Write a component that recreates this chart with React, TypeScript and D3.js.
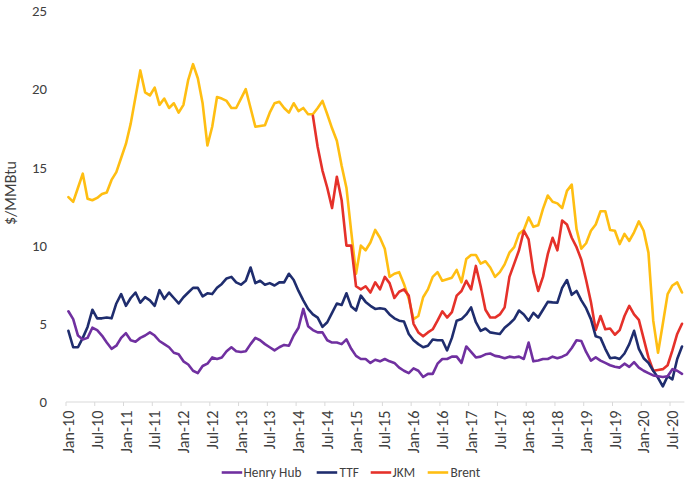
import React from "react";
import * as d3 from "d3";

// ---- Data (monthly, Jan-10 .. Sep-20), $/MMBtu ----
const startYear = 2010;
const monthNames = ["Jan","Feb","Mar","Apr","May","Jun","Jul","Aug","Sep","Oct","Nov","Dec"];
const months: string[] = [];
for (let i = 0; i < 129; i++) {
  const y = startYear + Math.floor(i / 12);
  months.push(`${monthNames[i % 12]}-${String(y).slice(2)}`);
}

const tickLabels = [
  "Jan-10","Jul-10","Jan-11","Jul-11","Jan-12","Jul-12","Jan-13","Jul-13",
  "Jan-14","Jul-14","Jan-15","Jul-15","Jan-16","Jul-16","Jan-17","Jul-17",
  "Jan-18","Jul-18","Jan-19","Jul-19","Jan-20","Jul-20",
];

const yTicks = [0, 5, 10, 15, 20, 25];

const henryHub: number[] = [
  5.8,5.3,4.25,4.0,4.1,4.75,4.6,4.25,3.8,3.4,
  3.6,4.1,4.4,3.95,3.85,4.1,4.25,4.45,4.25,3.9,
  3.7,3.5,3.15,3.05,2.6,2.4,2.0,1.85,2.3,2.45,
  2.85,2.75,2.85,3.25,3.5,3.25,3.2,3.25,3.7,4.1,
  3.95,3.7,3.5,3.3,3.5,3.65,3.6,4.25,4.75,5.95,
  4.85,4.6,4.45,4.45,3.95,3.8,3.8,3.7,4.0,3.4,
  2.95,2.75,2.75,2.5,2.7,2.6,2.75,2.6,2.5,2.2,
  2.0,1.85,2.15,2.0,1.6,1.8,1.8,2.45,2.75,2.75,
  2.9,2.9,2.5,3.55,3.2,2.85,2.9,3.05,3.1,2.95,
  2.9,2.8,2.9,2.85,2.9,2.75,3.8,2.6,2.65,2.75,
  2.75,2.9,2.8,2.9,3.05,3.45,3.95,3.9,3.2,2.65,
  2.85,2.65,2.5,2.35,2.25,2.2,2.45,2.25,2.55,2.2,
  2.0,1.85,1.7,1.65,1.6,1.65,2.1,2.0,1.8,
];

const ttf: number[] = [
  4.55,3.5,3.5,4.1,4.8,5.9,5.35,5.35,5.4,5.35,
  6.3,6.9,6.15,6.65,7.0,6.35,6.7,6.5,6.15,7.15,
  6.6,7.0,6.65,6.3,6.7,7.0,7.3,7.3,6.75,6.95,
  6.9,7.3,7.55,7.9,8.0,7.65,7.5,7.75,8.6,7.6,
  7.75,7.5,7.6,7.45,7.65,7.65,8.2,7.8,7.1,6.5,
  5.95,5.6,5.4,4.8,5.1,5.7,6.3,6.2,6.95,6.1,
  5.85,6.8,6.4,6.15,5.95,6.0,5.95,5.6,5.35,5.2,
  5.15,4.35,3.95,3.7,3.5,3.6,4.0,3.95,3.95,3.3,
  4.1,5.2,5.3,5.6,6.05,5.1,4.55,4.7,4.45,4.4,
  4.35,4.75,5.0,5.3,5.85,5.6,5.2,5.7,5.4,5.9,
  6.4,6.37,6.35,7.3,7.8,6.85,7.1,6.5,6.0,5.3,
  4.2,4.1,3.4,2.8,2.85,2.75,3.1,3.7,4.55,3.4,
  2.8,2.5,2.0,1.55,1.0,1.65,1.45,2.75,3.55,
];

const jkmStartIndex = 51; // JKM series begins Apr-14
const jkm: number[] = [
  18.3,16.3,14.8,13.7,12.4,14.4,12.9,10.0,10.0,
  7.4,7.2,7.4,7.0,7.65,7.2,8.0,7.6,6.65,7.05,
  7.2,6.8,5.0,4.45,4.2,4.45,4.65,5.2,5.8,5.4,
  5.75,6.8,7.1,7.75,7.2,8.7,7.4,5.9,5.4,5.4,
  5.6,6.05,8.0,8.85,9.7,10.95,10.4,8.3,7.1,8.0,
  9.45,10.5,9.7,11.6,11.35,10.5,9.9,9.1,7.8,6.4,
  4.6,5.5,4.65,4.7,4.3,4.6,5.5,6.15,5.6,5.25,
  4.05,2.85,2.0,2.05,2.1,2.35,3.3,4.35,5.0,
];

const brent: number[] = [
  13.1,12.8,13.7,14.6,13.0,12.9,13.05,13.3,13.4,14.2,
  14.7,15.6,16.5,17.8,19.5,21.2,19.8,19.6,20.1,19.0,
  19.4,18.8,19.1,18.5,19.0,20.6,21.6,20.7,19.1,16.4,
  17.6,19.5,19.4,19.25,18.8,18.8,19.4,20.0,18.8,17.6,
  17.65,17.7,18.5,19.1,19.2,18.8,18.5,19.1,18.6,18.8,
  18.4,18.4,18.8,19.25,18.4,17.5,16.7,15.1,13.7,10.9,
  8.2,10.0,9.7,10.2,11.0,10.5,9.8,8.0,8.2,8.3,
  7.55,6.6,5.3,5.5,6.7,7.2,8.0,8.3,7.75,7.85,
  7.95,8.45,7.65,9.15,9.4,9.4,8.85,9.0,8.6,8.0,
  8.3,8.8,9.55,9.9,10.75,11.0,11.8,11.2,11.3,12.35,
  13.2,12.8,12.7,12.4,13.5,13.9,11.05,9.8,10.15,10.95,
  11.35,12.2,12.2,11.0,10.95,10.1,10.75,10.3,10.85,11.55,
  10.95,9.55,5.2,3.15,5.0,6.9,7.45,7.65,7.0,
];

const seriesNames = ["Henry Hub", "TTF", "JKM", "Brent"];
const seriesColors = ["#7030A0", "#1F2D6E", "#E5312A", "#FFBE12"];

type Pt = { i: number; v: number | null };

function toPoints(values: number[], start = 0): Pt[] {
  return months.map((_, i) => {
    const k = i - start;
    return { i, v: k >= 0 && k < values.length ? values[k] : null };
  });
}

const seriesData: Pt[][] = [
  toPoints(henryHub),
  toPoints(ttf),
  toPoints(jkm, jkmStartIndex),
  toPoints(brent),
];

const drawOrder = [3, 2, 1, 0];

export default function App() {
  const W = 685, H = 481;
  const plotLeft = 66, plotRight = 684.4, plotTop = 11, plotBottom = 402;
  const font = "Carlito, Calibri, Lato, 'Liberation Sans', sans-serif";

  const x = d3.scaleBand<string>().domain(months).range([plotLeft, plotRight]).padding(0);
  const bw = x.bandwidth();
  const cx = (i: number) => (x(months[i]) as number) + bw / 2;
  const y = d3.scaleLinear().domain([0, 25]).range([plotBottom, plotTop]);

  const line = d3
    .line<Pt>()
    .defined((d) => d.v !== null)
    .x((d) => cx(d.i))
    .y((d) => y(d.v as number))
    .curve(d3.curveLinear);

  const legendItems = [
    { sx: 221.7, tx: 243.5 },
    { sx: 316.7, tx: 339.5 },
    { sx: 370.7, tx: 392.5 },
    { sx: 427.7, tx: 450.5 },
  ];

  return (
    <svg
      width={W}
      height={H}
      style={{ position: "absolute", left: 0, top: 0, background: "#fff" }}
      fontFamily={font}
    >
      {yTicks.map((t) => (
        <text key={t} x={47} y={y(t)} dy="0.35em" textAnchor="end" fontSize={14.8} fill="#404040">
          {t}
        </text>
      ))}
      <text
        transform={`translate(15.5, 193) rotate(-90)`}
        textAnchor="middle"
        fontSize={16}
        fill="#404040"
      >
        $/MMBtu
      </text>

      <line x1={plotLeft} x2={plotRight} y1={plotBottom} y2={plotBottom} stroke="#D9D9D9" strokeWidth={1} />
      {tickLabels.map((lab) => {
        const idx = months.indexOf(lab);
        const tx = x(lab) as number;
        return (
          <g key={lab}>
            <line x1={tx} x2={tx} y1={plotBottom} y2={plotBottom + 4} stroke="#D9D9D9" strokeWidth={1} />
            <text
              transform={`translate(${cx(idx)}, ${plotBottom + 8.5}) rotate(-90)`}
              textAnchor="end"
              dy="0.35em"
              fontSize={16.2}
              fill="#404040"
            >
              {lab}
            </text>
          </g>
        );
      })}

      {drawOrder.map((s) => (
        <path
          key={seriesNames[s]}
          d={line(seriesData[s]) || ""}
          fill="none"
          stroke={seriesColors[s]}
          strokeWidth={2.6}
          strokeLinejoin="round"
          strokeLinecap="round"
        />
      ))}

      {seriesNames.map((n, k) => (
        <g key={n}>
          <line
            x1={legendItems[k].sx}
            x2={legendItems[k].sx + 20.5}
            y1={472.5}
            y2={472.5}
            stroke={seriesColors[k]}
            strokeWidth={2.6}
          />
          <text x={legendItems[k].tx} y={472.5} dy="0.35em" fontSize={13.3} fill="#404040">
            {n}
          </text>
        </g>
      ))}
    </svg>
  );
}
